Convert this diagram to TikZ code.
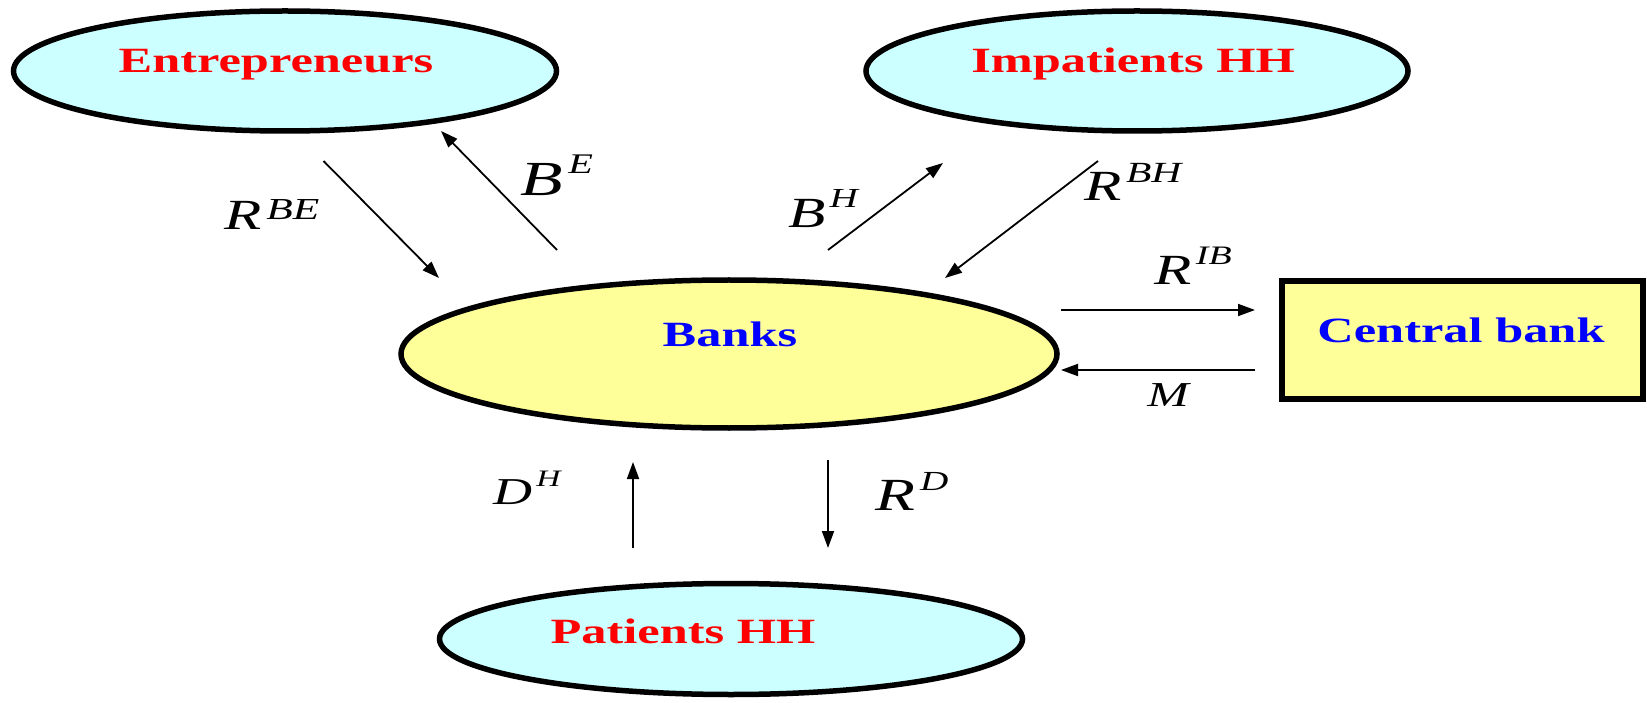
\documentclass[tikz,border=0pt]{standalone}
\usepackage{fontspec}
\setmainfont{Liberation Serif}
\usetikzlibrary{shapes.geometric,arrows.meta}
\definecolor{lcyan}{HTML}{CCFFFF}
\definecolor{lyellow}{HTML}{FFFF99}
% base, superscript, size, superscript scale, raise
\newcommand\suplbl[5]{\scalebox{1.42}[1]{\fontsize{#3}{#3}\selectfont\itshape #1\kern0.07em\raisebox{#5}{\scalebox{#4}{#2}}}}
\newcommand\nmtxt[1]{\scalebox{1.42}[1]{#1}}
\begin{document}
\begin{tikzpicture}[x=1pt,y=-1pt,
  ell/.style={ellipse, draw=black, line width=5.5pt, inner sep=0pt},
  cyanell/.style={ell, fill=lcyan},
  yellell/.style={ell, fill=lyellow},
  cbbox/.style={rectangle, draw=black, line width=6pt, fill=lyellow, inner sep=0pt},
  nametxt/.style={anchor=base, inner sep=0pt, font=\bfseries\fontsize{35.5}{40}\selectfont},
  arr/.style={line width=1.8pt, -{Triangle[length=17pt,width=12pt]}},
  lbl/.style={inner sep=0pt}]
\useasboundingbox (0,0) rectangle (1647,703);
% shapes
\node[cyanell, minimum width=543pt, minimum height=120pt] (ent) at (285,71) {};
\node[cyanell, minimum width=542pt, minimum height=120pt] (imp) at (1137,71) {};
\node[yellell, minimum width=656pt, minimum height=148pt] (bank) at (729,354) {};
\node[cbbox, minimum width=361pt, minimum height=117pt] (cb) at (1462,340) {};
\node[cyanell, minimum width=583pt, minimum height=111pt] (pat) at (731,639) {};
% texts
\node[nametxt, text=red] (entT) at (276,72.3) {\nmtxt{Entrepreneurs}};
\node[nametxt, text=red] (impT) at (1133,72.3) {\nmtxt{Impatients HH}};
\node[nametxt, text=blue] (bankT) at (730,346.7) {\nmtxt{Banks}};
\node[nametxt, text=blue] (cbT) at (1461,342.7) {\nmtxt{Central bank}};
\node[nametxt, text=red] (patT) at (683,643) {\nmtxt{Patients HH}};
% arrow end points
\coordinate (a1s) at (323.5,161); \coordinate (a1e) at (439,278);
\coordinate (a2s) at (557,250);   \coordinate (a2e) at (441,131);
\coordinate (a3s) at (828,250);   \coordinate (a3e) at (943,163);
\coordinate (a4s) at (1098,161);  \coordinate (a4e) at (945,278);
\coordinate (a5s) at (1061,310);  \coordinate (a5e) at (1255,310);
\coordinate (a6s) at (1255,370);  \coordinate (a6e) at (1061,370);
\coordinate (a7s) at (633,548);   \coordinate (a7e) at (633,462);
\coordinate (a8s) at (828,460);   \coordinate (a8e) at (828,548);
\draw[arr] (a1s) -- (a1e);
\draw[arr] (a2s) -- (a2e);
\draw[arr] (a3s) -- (a3e);
\draw[arr] (a4s) -- (a4e);
\draw[arr] (a5s) -- (a5e);
\draw[arr] (a6s) -- (a6e);
\draw[arr] (a7s) -- (a7e);
\draw[arr] (a8s) -- (a8e);
% labels
\node[lbl] (lRBE) at (272,215) {\suplbl{R}{BE}{43}{0.71}{10pt}};
\node[lbl] (lBE) at (557,175) {\suplbl{B}{E}{49}{0.58}{22pt}};
\node[lbl] (lBH) at (823,209) {\suplbl{B}{H}{43}{0.64}{20pt}};
\node[lbl] (lRBH) at (1133,182) {\suplbl{R}{BH}{43}{0.68}{18pt}};
\node[lbl] (lRIB) at (1193,266) {\suplbl{R}{IB}{43}{0.62}{20pt}};
\node[lbl] (lM) at (1168,395) {\scalebox{1.42}[1]{\fontsize{35}{35}\selectfont\itshape M}};
\node[lbl] (lDH) at (527,488) {\suplbl{D}{H}{38}{0.62}{18pt}};
\node[lbl] (lRD) at (912,491) {\suplbl{R}{D}{46}{0.6}{20pt}};
\end{tikzpicture}
\end{document}
